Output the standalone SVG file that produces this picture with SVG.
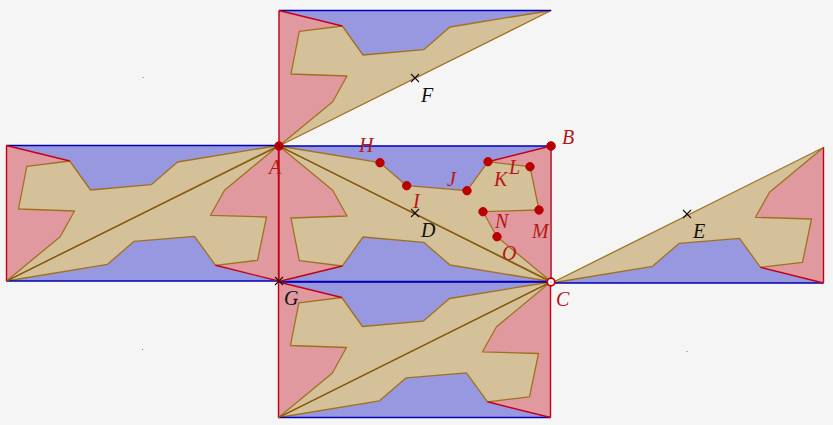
<svg xmlns="http://www.w3.org/2000/svg" width="833" height="425" viewBox="0 0 833 425">
<style>
.r{fill:#e09a9f;stroke:none}
.b{fill:#9898e0;stroke:none}
.t{fill:#d4c099;stroke:#a0701e;stroke-width:1.3;stroke-linejoin:round}
.el{fill:none;stroke:#c40018;stroke-width:1.4}
.eb{fill:none;stroke:#0000b4;stroke-width:1.4}
.d{fill:none;stroke:#80590f;stroke-width:1.2}
.x{fill:none;stroke:#111;stroke-width:1.1}
.pt{fill:#b80000;stroke:#c00000;stroke-width:1}
.pc{fill:#5a0000}
text{font-family:"Liberation Serif",serif;font-style:italic;font-size:20px}
.lr{fill:#b81616}
.lk{fill:#111}
.dot{fill:#777}
</style>
<defs>
<g id="upper">
<polygon class="b" points="0,0 272,0 209,15.7 188,44.7 127.7,39.7 101,16.7"/>
<polygon class="r" points="272,0 272,135.500 218,90.700 204,65.700 260,64 251,20.700 209,15.700"/>
<polygon class="t" points="0,0 101,16.700 127.700,39.700 188,44.700 209,15.700 251,20.700 260,64 204,65.700 218,90.700 272,135.500"/>
<path class="eb" d="M0,0H272"/>
<path class="el" d="M272,0V135.500M272,0L209,15.700"/>
</g>
<g id="lower">
<polygon class="r" points="0,0 0,135.500 63.300,120 20.300,114.700 12,72 68,70 53.700,44.300"/>
<polygon class="b" points="0,135.500 272,135.500 171,119 144.700,96.300 84,91 63.300,120"/>
<polygon class="t" points="0,0 53.700,44.300 68,70 12,72 20.300,114.700 63.300,120 84,91 144.700,96.300 171,119 272,135.500"/>
<path class="eb" d="M0,135.500H272"/>
<path class="el" d="M0,0V135.500M0,135.500L63.300,120"/>
</g>
<g id="full"><use href="#upper"/><use href="#lower"/></g>
</defs>
<rect width="833" height="425" fill="#f5f5f5"/>
<g id="pieces">
<use id="piece-top" href="#lower" transform="translate(279,146) scale(1,-1)"/>
<use id="piece-left" href="#full" transform="translate(6.500,281) scale(1,-1)"/>
<use id="piece-bottom" href="#full" transform="translate(278.500,417.500) scale(1,-1)"/>
<use id="piece-right" href="#upper" transform="translate(551.500,283) scale(1,-1)"/>
<use id="piece-centre" href="#full" transform="translate(279,146)"/>
</g>
<g id="connectors">
<path class="d" d="M6.500,281L279,146M278.500,417.500L551,282M279,146L551,282"/>
<path d="M551,146V282" fill="none" stroke="#c0404f" stroke-width="2"/>
</g>
<g id="marks">
<path class="x" d="M411,74l8,8m0,-8l-8,8M683,210l8,8m0,-8l-8,8M411,209l8,8m0,-8l-8,8M275,277l8,8m0,-8l-8,8"/>
<rect class="dot" x="142.500" y="77" width="1" height="1"/>
<rect class="dot" x="142" y="349" width="1" height="1"/>
<rect class="dot" x="686.500" y="351" width="1" height="1"/>
</g>
<g id="points">
<circle class="pt" cx="279" cy="146" r="4.200"/>
<circle class="pc" cx="279" cy="146" r="1"/>
<circle class="pt" cx="551" cy="146" r="4.300"/>
<circle class="pc" cx="551" cy="146" r="0.800"/>
<circle class="pt" cx="380" cy="162.700" r="4.200"/>
<circle class="pt" cx="406.700" cy="185.700" r="4.200"/>
<circle class="pt" cx="467" cy="190.700" r="4.200"/>
<circle class="pt" cx="488" cy="161.700" r="4.200"/>
<circle class="pt" cx="530" cy="166.700" r="4.200"/>
<circle class="pt" cx="539" cy="210" r="4.200"/>
<circle class="pt" cx="483" cy="211.700" r="4.200"/>
<circle class="pt" cx="497" cy="236.700" r="4.200"/>
<circle cx="551" cy="282" r="3.800" fill="#fff" stroke="#c00000" stroke-width="1.800"/>
<circle cx="551" cy="282" r="0.800" fill="#aaa"/>
</g>
<g id="labels">
<text class="lr" x="269" y="174">A</text>
<text class="lr" x="562" y="144">B</text>
<text class="lr" x="556" y="306">C</text>
<text class="lk" x="421" y="237">D</text>
<text class="lk" x="693" y="238">E</text>
<text class="lk" x="421" y="102">F</text>
<text class="lk" x="284" y="305">G</text>
<text class="lr" x="359" y="152">H</text>
<text class="lr" x="413" y="208">I</text>
<text class="lr" x="447" y="186">J</text>
<text class="lr" x="494" y="186">K</text>
<text class="lr" x="509" y="174">L</text>
<text class="lr" x="532" y="238">M</text>
<text class="lr" x="495" y="228">N</text>
<text class="lr" x="502" y="260">O</text>
</g>
</svg>
